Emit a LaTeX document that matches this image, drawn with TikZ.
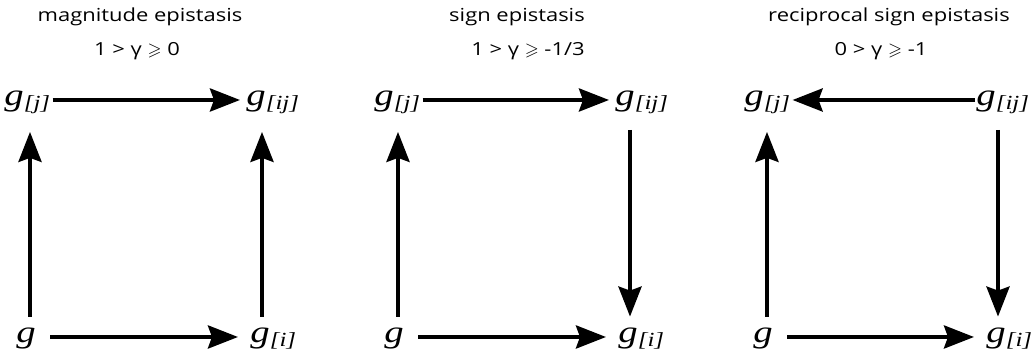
\documentclass[tikz,border=0pt]{standalone}
\usepackage{fontspec}
\usepackage{amssymb}
\setmainfont{Open Sans}[FakeStretch=1.22]
\newfontfamily\lblfont{Liberation Serif}[FakeStretch=1.25]
\usetikzlibrary{arrows.meta}

% genotype label g with a bracketed subscript
\newcommand{\gsub}[1]{{\lblfont\itshape g\raisebox{-2pt}{\fontsize{10}{11}\selectfont[#1]}}}

\begin{document}
\begin{tikzpicture}[x=0.5pt,y=-0.5pt,line cap=butt,
    arr/.style={-{Stealth[length=15pt,width=11.5pt,inset=2pt]},line width=2pt},
    lbl/.style={anchor=base west,inner sep=0pt,text height=7.5pt,text depth=1.5pt,font=\fontsize{15.5}{16}\selectfont},
    ttl/.style={anchor=base,inner sep=0pt,font=\fontsize{9}{11}\selectfont}]
  \useasboundingbox (0,0) rectangle (1033,356);

  % magnitude epistasis
  \node[ttl] (t1) at (140,22) {magnitude epistasis};
  \node[ttl] (c1) at (137,56) {1 > γ $\geqslant$ 0};
  \node[lbl] (g1) at (16,343) {\lblfont\itshape g};
  \node[lbl] (gi1) at (250,343) {\gsub{i}};
  \node[lbl] (gj1) at (4,106) {\gsub{j}};
  \node[lbl] (gij1) at (246,106) {\gsub{ij}};
  \draw[arr,shorten <=7pt,shorten >=6pt] (g1.east) -- (g1.east -| gi1.west);
  \draw[arr,shorten <=1pt,shorten >=3pt] (gj1.east) -- (gj1.east -| gij1.west);
  \draw[arr,shorten <=5.5pt,shorten >=11.25pt] ([xshift=7pt]g1.north west) -- ([xshift=7pt]g1.north west |- gj1.south);
  \draw[arr,shorten <=5.5pt,shorten >=11.25pt] ([xshift=6pt]gi1.north west) -- ([xshift=6pt]gi1.north west |- gij1.south);

  % sign epistasis
  \node[ttl] (t2) at (517,22) {sign epistasis};
  \node[ttl] (c2) at (528,56) {1 > γ $\geqslant$ -1/3};
  \node[lbl] (g2) at (384,343) {\lblfont\itshape g};
  \node[lbl] (gi2) at (618,343) {\gsub{i}};
  \node[lbl] (gj2) at (374,106) {\gsub{j}};
  \node[lbl] (gij2) at (615,106) {\gsub{ij}};
  \draw[arr,shorten <=7pt,shorten >=6pt] (g2.east) -- (g2.east -| gi2.west);
  \draw[arr,shorten <=1pt,shorten >=3pt] (gj2.east) -- (gj2.east -| gij2.west);
  \draw[arr,shorten <=5.5pt,shorten >=11.25pt] ([xshift=7pt]g2.north west) -- ([xshift=7pt]g2.north west |- gj2.south);
  \draw[arr,shorten <=10.25pt,shorten >=5.5pt] ([xshift=6pt]gi2.north west |- gij2.south) -- ([xshift=6pt]gi2.north west);

  % reciprocal sign epistasis
  \node[ttl] (t3) at (889,22) {reciprocal sign epistasis};
  \node[ttl] (c3) at (881,56) {0 > γ $\geqslant$ -1};
  \node[lbl] (g3) at (753,343) {\lblfont\itshape g};
  \node[lbl] (gi3) at (986,343) {\gsub{i}};
  \node[lbl] (gj3) at (744,106) {\gsub{j}};
  \node[lbl] (gij3) at (976,106) {\gsub{ij}};
  \draw[arr,shorten <=7pt,shorten >=6pt] (g3.east) -- (g3.east -| gi3.west);
  \draw[arr,shorten <=0.5pt,shorten >=1pt] (gij3.west) -- (gij3.west -| gj3.east);
  \draw[arr,shorten <=5.5pt,shorten >=11.25pt] ([xshift=7pt]g3.north west) -- ([xshift=7pt]g3.north west |- gj3.south);
  \draw[arr,shorten <=10.25pt,shorten >=5.5pt] ([xshift=6pt]gi3.north west |- gij3.south) -- ([xshift=6pt]gi3.north west);
\end{tikzpicture}
\end{document}
